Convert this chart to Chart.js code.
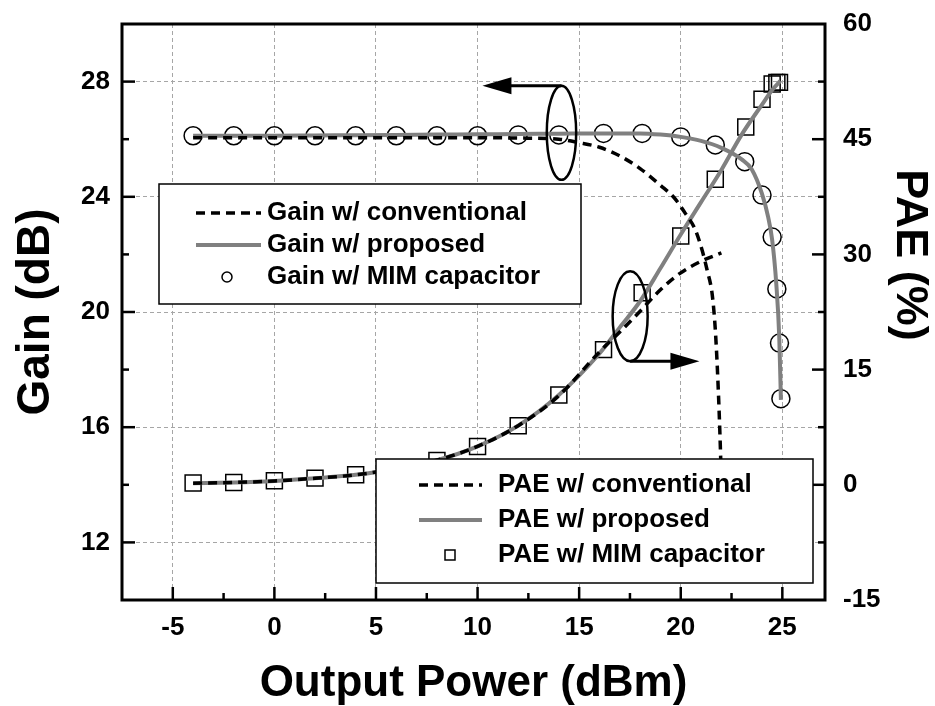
<!DOCTYPE html>
<html>
<head>
<meta charset="utf-8">
<script src="https://cdn.jsdelivr.net/npm/chart.js@4/dist/chart.umd.min.js"></script>
<style>
  html, body { margin: 0; padding: 0; background: #fff; }
</style>
</head>
<body>
<canvas id="paeChart" width="935" height="706"></canvas>
<script>
// Gain (left axis, dB) vs output power (dBm)
const gainConvX = [-4, -2, 0, 2, 4, 6, 8, 10, 12, 14, 15, 16, 17, 18, 19, 19.7, 20.2, 20.7, 21.05, 21.3, 21.55, 21.7, 21.83, 21.95, 22.0];
const gainConvY = [26.05, 26.05, 26.05, 26.05, 26.05, 26.05, 26.05, 26.05, 26.04, 26.0, 25.88, 25.72, 25.42, 24.98, 24.4, 23.95, 23.45, 22.88, 22.15, 21.45, 20.6, 19.4, 17.6, 15.3, 14.0];

const gainPropX = [-4, -2, 0, 2, 4, 6, 8, 10, 12, 14, 16, 18, 19, 20, 21, 22, 23, 23.5, 24, 24.3, 24.5, 24.7, 24.85, 24.93];
const gainPropY = [26.12, 26.12, 26.12, 26.13, 26.14, 26.15, 26.16, 26.17, 26.18, 26.19, 26.2, 26.2, 26.16, 26.08, 25.94, 25.7, 25.3, 24.95, 24.1, 23.3, 22.5, 21.0, 19.1, 16.95];

const gainMimX = [-4, -2, 0, 2, 4, 6, 8, 10, 12, 14, 16.2, 18.1, 20, 21.7, 23.15, 24, 24.5, 24.73, 24.86, 24.93];
const gainMimY = [26.12, 26.12, 26.12, 26.12, 26.12, 26.12, 26.12, 26.12, 26.15, 26.15, 26.2, 26.2, 26.08, 25.8, 25.22, 24.06, 22.6, 20.8, 18.92, 16.99];

// PAE (right axis, %)
const paeConvX = [-4, -2, 0, 2, 4, 6, 8, 10, 12, 14, 16, 17, 18, 19, 20, 21, 22];
const paeConvY = [0.2, 0.3, 0.5, 0.85, 1.3, 2.1, 3.2, 5.0, 7.7, 11.6, 17.3, 19.9, 22.6, 25.4, 27.6, 29.1, 30.2];

const paePropX = [-4, -2, 0, 2, 4, 6, 8, 10, 12, 14, 16, 17, 18, 19, 20, 21, 22, 23, 24, 24.5, 24.9];
const paePropY = [0.2, 0.3, 0.5, 0.85, 1.3, 2.1, 3.2, 5.0, 7.7, 11.7, 17.1, 20.5, 23.9, 28.2, 32.6, 36.8, 41.0, 45.6, 49.5, 51.4, 52.6];

const paeMimX = [-4, -2, 0, 2, 4, 6, 8, 10, 12, 14, 16.2, 18.1, 20, 21.7, 23.2, 24, 24.5, 24.73, 24.86];
const paeMimY = [0.22, 0.3, 0.52, 0.87, 1.3, 2.1, 3.17, 5.0, 7.7, 11.7, 17.6, 25.0, 32.4, 39.8, 46.6, 50.2, 52.2, 52.4, 52.4];

const seriesLabels = [
  'Gain w/ conventional', 'Gain w/ proposed', 'Gain w/ MIM capacitor',
  'PAE w/ conventional', 'PAE w/ proposed', 'PAE w/ MIM capacitor'
];

// ellipse + arrow call-outs (data coordinates)
const gainCallout = { x: 14.13, y: 26.22, tipX: 10.24 };
const paeCallout = { x: 17.51, y: 21.95, tipX: 20.92 };

const FONT = "'Liberation Sans', Arial, sans-serif";
const GRID = '#a6a6a6';
const GRAY = '#808080';

function pts(xs, ys) {
  return xs.map((x, i) => ({ x: x, y: ys[i] }));
}

function lineSet(i, xs, ys, axis, color, dash) {
  return {
    label: seriesLabels[i], data: pts(xs, ys), yAxisID: axis,
    showLine: true, borderColor: color, borderWidth: dash ? 3.5 : 4,
    borderDash: dash || [], borderCapStyle: 'butt',
    cubicInterpolationMode: 'monotone', pointRadius: 0, fill: false
  };
}

function markerSet(i, xs, ys, axis, style, r) {
  return {
    label: seriesLabels[i], data: pts(xs, ys), yAxisID: axis,
    showLine: false, pointStyle: style, pointRadius: r,
    pointBorderColor: '#000', pointBackgroundColor: 'rgba(0,0,0,0)', pointBorderWidth: 1.5
  };
}

// ticks pointing into the plot, frame, call-outs, legends, right title
const decorations = {
  id: 'decorations',
  afterDraw(chart) {
    const ctx = chart.ctx;
    const a = chart.chartArea;
    const sx = chart.scales.x, sy = chart.scales.y, sy1 = chart.scales.y1;

    ctx.save();
    ctx.strokeStyle = '#000';
    ctx.lineWidth = 2.5;
    sx.ticks.forEach(t => {
      const p = sx.getPixelForValue(t.value);
      if (p <= a.left + 2 || p >= a.right - 2) return;
      const len = t.value % 5 === 0 ? 13 : 7;
      ctx.beginPath(); ctx.moveTo(p, a.bottom); ctx.lineTo(p, a.bottom - len); ctx.stroke();
    });
    sy.ticks.forEach(t => {
      const p = sy.getPixelForValue(t.value);
      if (p <= a.top + 2 || p >= a.bottom - 2) return;
      const len = t.value % 4 === 0 ? 13 : 7;
      ctx.beginPath(); ctx.moveTo(a.left, p); ctx.lineTo(a.left + len, p); ctx.stroke();
    });
    sy1.ticks.forEach(t => {
      const p = sy1.getPixelForValue(t.value);
      if (p <= a.top + 2 || p >= a.bottom - 2) return;
      const len = t.value % 15 === 0 ? 13 : 7;
      ctx.beginPath(); ctx.moveTo(a.right, p); ctx.lineTo(a.right - len, p); ctx.stroke();
    });

    // frame
    ctx.lineWidth = 3;
    ctx.strokeRect(a.left, a.top, a.right - a.left, a.bottom - a.top);

    // call-outs
    ctx.lineWidth = 2.5;
    ctx.fillStyle = '#000';
    const callout = (c, yScale, rx, ry, up) => {
      const cx = sx.getPixelForValue(c.x);
      const cy = yScale.getPixelForValue(c.y);
      const tip = sx.getPixelForValue(c.tipX);
      const dir = tip > cx ? 1 : -1;
      const ay = up ? cy - ry : cy + ry;
      ctx.beginPath(); ctx.ellipse(cx, cy, rx, ry, 0, 0, Math.PI * 2); ctx.stroke();
      ctx.lineWidth = 3;
      ctx.beginPath(); ctx.moveTo(cx, ay); ctx.lineTo(tip - dir * 26, ay); ctx.stroke();
      ctx.beginPath();
      ctx.moveTo(tip, ay);
      ctx.lineTo(tip - dir * 29, ay - 8.5);
      ctx.lineTo(tip - dir * 29, ay + 8.5);
      ctx.closePath(); ctx.fill();
      ctx.lineWidth = 2.5;
    };
    callout(gainCallout, sy, 14.7, 47, true);
    callout(paeCallout, sy1, 17.5, 45, false);

    // legends
    const ds = chart.data.datasets;
    const legend = (box, idx, rowY, x0, x1, mx, tx) => {
      ctx.fillStyle = '#fff';
      ctx.fillRect(box.x, box.y, box.w, box.h);
      ctx.strokeStyle = '#000';
      ctx.lineWidth = 1.5;
      ctx.strokeRect(box.x, box.y, box.w, box.h);
      idx.forEach((k, r) => {
        const d = ds[k];
        const y = rowY[r];
        ctx.save();
        if (d.showLine) {
          ctx.strokeStyle = d.borderColor;
          ctx.lineWidth = d.borderWidth;
          ctx.setLineDash(d.borderDash);
          ctx.beginPath(); ctx.moveTo(x0, y); ctx.lineTo(x1, y); ctx.stroke();
        } else {
          ctx.strokeStyle = '#000';
          ctx.lineWidth = 1.5;
          ctx.beginPath();
          if (d.pointStyle === 'circle') ctx.arc(mx, y, 5, 0, Math.PI * 2);
          else ctx.rect(mx - 5, y - 5, 10, 10);
          ctx.stroke();
        }
        ctx.restore();
        ctx.fillStyle = '#000';
        ctx.font = 'bold 26px ' + FONT;
        ctx.textBaseline = 'middle';
        ctx.textAlign = 'left';
        ctx.fillText(d.label, tx, y);
      });
    };
    legend({ x: a.left + 37, y: a.top + 160, w: 422, h: 120 }, [0, 1, 2],
      [a.top + 189, a.top + 221, a.top + 253], a.left + 74, a.left + 139, a.left + 105, a.left + 145);
    legend({ x: a.left + 254, y: a.top + 435, w: 437, h: 124 }, [3, 4, 5],
      [a.top + 461, a.top + 496, a.top + 531], a.left + 297, a.left + 360, a.left + 328, a.left + 376);

    // right axis title
    ctx.fillStyle = '#000';
    ctx.font = 'bold 45px ' + FONT;
    ctx.textAlign = 'center';
    ctx.textBaseline = 'middle';
    ctx.translate(909, 255);
    ctx.rotate(Math.PI / 2);
    ctx.fillText('PAE (%)', 0, 0);
    ctx.restore();
  }
};

const tickFont = { family: FONT, size: 26, weight: 'bold' };
const titleFont = { family: FONT, size: 44, weight: 'bold', lineHeight: 1 };

new Chart(document.getElementById('paeChart'), {
  type: 'scatter',
  data: {
    datasets: [
      lineSet(0, gainConvX, gainConvY, 'y', '#000', [9, 6]),
      lineSet(1, gainPropX, gainPropY, 'y', GRAY, null),
      markerSet(2, gainMimX, gainMimY, 'y', 'circle', 9),
      lineSet(3, paeConvX, paeConvY, 'y1', '#000', [9, 6]),
      lineSet(4, paePropX, paePropY, 'y1', GRAY, null),
      markerSet(5, paeMimX, paeMimY, 'y1', 'rect', 11.3)
    ]
  },
  options: {
    responsive: false,
    animation: false,
    layout: { padding: { top: 24, left: 0, right: 0, bottom: 0 } },
    plugins: { legend: { display: false }, tooltip: { enabled: false } },
    scales: {
      x: {
        type: 'linear', min: -7.5, max: 27.1,
        ticks: {
          stepSize: 2.5, includeBounds: false, autoSkip: false, maxRotation: 0,
          padding: 12, color: '#000', font: tickFont,
          callback: v => (v % 5 === 0 ? String(v) : '')
        },
        grid: {
          drawTicks: false, lineWidth: 1, borderDash: [4, 3],
          color: c => (c.tick && c.tick.value % 5 === 0 ? GRID : 'rgba(0,0,0,0)')
        },
        border: { display: false, dash: [4, 3] },
        title: { display: true, text: 'Output Power (dBm)', color: '#000', font: titleFont, padding: { top: 0, bottom: 0 } },
        afterFit: s => { s.height = 106; s.paddingLeft = 0; s.paddingRight = 0; }
      },
      y: {
        type: 'linear', position: 'left', min: 10, max: 30,
        ticks: {
          stepSize: 2, autoSkip: false, padding: 12, color: '#000', font: tickFont,
          callback: v => (v % 4 === 0 ? String(v) : '')
        },
        grid: {
          drawTicks: false, lineWidth: 1, borderDash: [4, 3],
          color: c => (c.tick && c.tick.value % 4 === 0 ? GRID : 'rgba(0,0,0,0)')
        },
        border: { display: false, dash: [4, 3] },
        title: { display: true, text: 'Gain (dB)', color: '#000', font: { family: FONT, size: 46, weight: 'bold', lineHeight: 1 }, padding: { top: 13, bottom: 0 } },
        afterFit: s => { s.width = 122; s.paddingTop = 0; s.paddingBottom = 0; }
      },
      y1: {
        type: 'linear', position: 'right', min: -15, max: 60,
        ticks: {
          stepSize: 7.5, autoSkip: false, padding: 18, color: '#000', font: tickFont,
          callback: v => (v % 15 === 0 ? String(v) : '')
        },
        grid: { display: false, drawTicks: false },
        border: { display: false },
        afterFit: s => { s.width = 110; s.paddingTop = 0; s.paddingBottom = 0; }
      }
    }
  },
  plugins: [decorations]
});
</script>
</body>
</html>
